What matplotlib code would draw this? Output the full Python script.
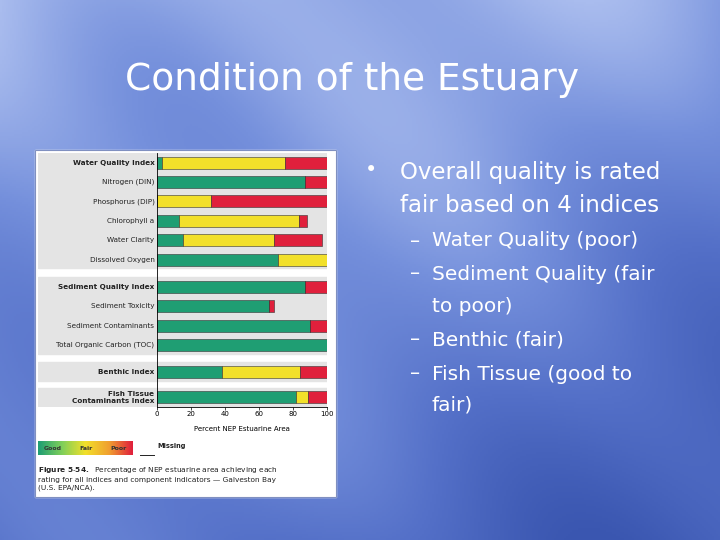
import numpy as np
import matplotlib
matplotlib.use("Agg")
import matplotlib.pyplot as plt
from matplotlib.patches import Rectangle
from matplotlib.colors import LinearSegmentedColormap

labels = ["Water Quality Index", "Nitrogen (DIN)", "Phosphorus (DIP)", "Chlorophyll a",
          "Water Clarity", "Dissolved Oxygen", "Sediment Quality Index", "Sediment Toxicity",
          "Sediment Contaminants", "Total Organic Carbon (TOC)", "Benthic Index",
          "Fish Tissue\nContaminants Index"]
bold = [True, False, False, False, False, False, True, False, False, False, True, True]
good = [3, 87, 0, 13, 15.5, 71, 87, 66, 90, 100, 38, 82]
fair = [72, 0, 32, 70.5, 53.5, 29, 0, 0, 0, 0, 46, 7]
poor = [25, 13, 68, 4.5, 28, 0, 13, 3, 10, 0, 16, 11]
xticks = [0, 20, 40, 60, 80, 100]

W, H = 720, 540
fig = plt.figure(figsize=(7.2, 5.4), dpi=100)

# background
bg = fig.add_axes([0, 0, 1, 1])
yy, xx = np.mgrid[0:1:270j, 0:1:360j]
val = 0.5 * yy + 0.2 * xx + 0.1 * np.sin(6 * xx + 3 * yy) + 0.07 * np.sin(13 * xx - 9 * yy)
cmap = LinearSegmentedColormap.from_list("b", ["#a9bcee", "#7590dc", "#5470c8", "#3a56b0"])
bg.imshow(val, cmap=cmap, aspect="auto", extent=[0, 1, 0, 1], origin="upper")
bg.set_xlim(0, 1); bg.set_ylim(0, 1); bg.axis("off")

def fx(px): return px / W
def fy(py): return 1 - py / H

bg.text(fx(125), fy(80), "Condition of the Estuary", fontsize=27, color="white",
        va="center", ha="left")
# panel
bg.add_patch(Rectangle((fx(35), fy(497)), fx(301), (497 - 150) / H, color="white", zorder=2))
bg.add_patch(Rectangle((fx(35), fy(497)), fx(301), (497 - 150) / H, fill=False,
                       ec="#8090c0", lw=0.8, zorder=3))

bg.text(fx(365), fy(170), "•", fontsize=15, color="white", va="center")
bg.text(fx(400), fy(172), "Overall quality is rated", fontsize=16.5, color="white", va="center")
bg.text(fx(400), fy(206), "fair based on 4 indices", fontsize=16.5, color="white", va="center")
subs = [(241, "–", "Water Quality (poor)"), (274, "–", "Sediment Quality (fair"),
        (306, "", "to poor)"), (340, "–", "Benthic (fair)"), (374, "–", "Fish Tissue (good to"),
        (405, "", "fair)")]
for y, d, t in subs:
    if d:
        bg.text(fx(410), fy(y), d, fontsize=14.5, color="white", va="center")
    bg.text(fx(432), fy(y), t, fontsize=14.5, color="white", va="center")

# chart axes
x0, x1 = 38, 327
ax = fig.add_axes([fx(x0), fy(407), (x1 - x0) / W, (407 - 153) / H])
zero = 157
scale = (327 - 157) / 100
xmin = -(zero - x0) / scale
ax.set_xlim(xmin, 100)
pos = [0, 1, 2, 3, 4, 5, 6.4, 7.4, 8.4, 9.4, 10.8, 12.1]
ax.set_ylim(12.6, -0.5)
groups = [(0, 5), (6.4, 9.4), (10.8, 10.8), (12.1, 12.1)]
for a, b in groups:
    ax.axhspan(a - 0.5, b + 0.45, color="#e4e4e4", zorder=0)
G, F, P = "#1f9e73", "#f2e02a", "#e0203c"
h = 0.62
g = np.array(good); f = np.array(fair); p = np.array(poor)
ax.barh(pos, g, height=h, color=G, ec="#333", lw=0.4, zorder=2)
ax.barh(pos, f, left=g, height=h, color=F, ec="#333", lw=0.4, zorder=2)
ax.barh(pos, p, left=g + f, height=h, color=P, ec="#333", lw=0.4, zorder=2)
for yp, lab, b in zip(pos, labels, bold):
    ax.text(-1.5, yp, lab, ha="right", va="center", fontsize=5.2,
            fontweight="bold" if b else "normal", color="#222", linespacing=1.15)
ax.set_yticks([])
ax.set_xticks(xticks)
ax.tick_params(axis="x", labelsize=5, length=2, width=0.5, pad=1)
for s in ["top", "right"]:
    ax.spines[s].set_visible(False)
ax.spines["left"].set_position(("data", 0))
ax.spines["bottom"].set_bounds(0, 100)
ax.spines["left"].set_linewidth(0.6); ax.spines["bottom"].set_linewidth(0.6)
ax.set_xlabel("Percent NEP Estuarine Area", fontsize=5, labelpad=1)
ax.xaxis.set_label_coords((50 - xmin) / (100 - xmin), -0.075)
ax.set_facecolor("none")

# legend
lg = fig.add_axes([fx(38), fy(455), (133 - 38) / W, 14 / H])
lcm = LinearSegmentedColormap.from_list("l", [G, "#7fcf5a", F, "#f0a030", P])
lg.imshow(np.linspace(0, 1, 100)[None, :], cmap=lcm, aspect="auto")
lg.axis("off")
for x, t in [(0.15, "Good"), (0.5, "Fair"), (0.85, "Poor")]:
    lg.text(x, 0.5, t, transform=lg.transAxes, fontsize=4.5, fontweight="bold",
            ha="center", va="center", color="#333")
bg.plot([fx(140), fx(154)], [fy(455), fy(455)], color="#222", lw=0.7, zorder=4)
bg.text(fx(157), fy(448), "Missing", fontsize=4.8, fontweight="bold", color="#222", zorder=4)
bg.text(fx(38), fy(478),
        r"$\bf{Figure\ 5\text{-}54.}$  Percentage of NEP estuarine area achieving each" "\n"
        "rating for all indices and component indicators — Galveston Bay\n(U.S. EPA/NCA).",
        fontsize=5.3, color="#222", va="center", zorder=4, linespacing=1.3)

fig.savefig("out.png", dpi=100)
